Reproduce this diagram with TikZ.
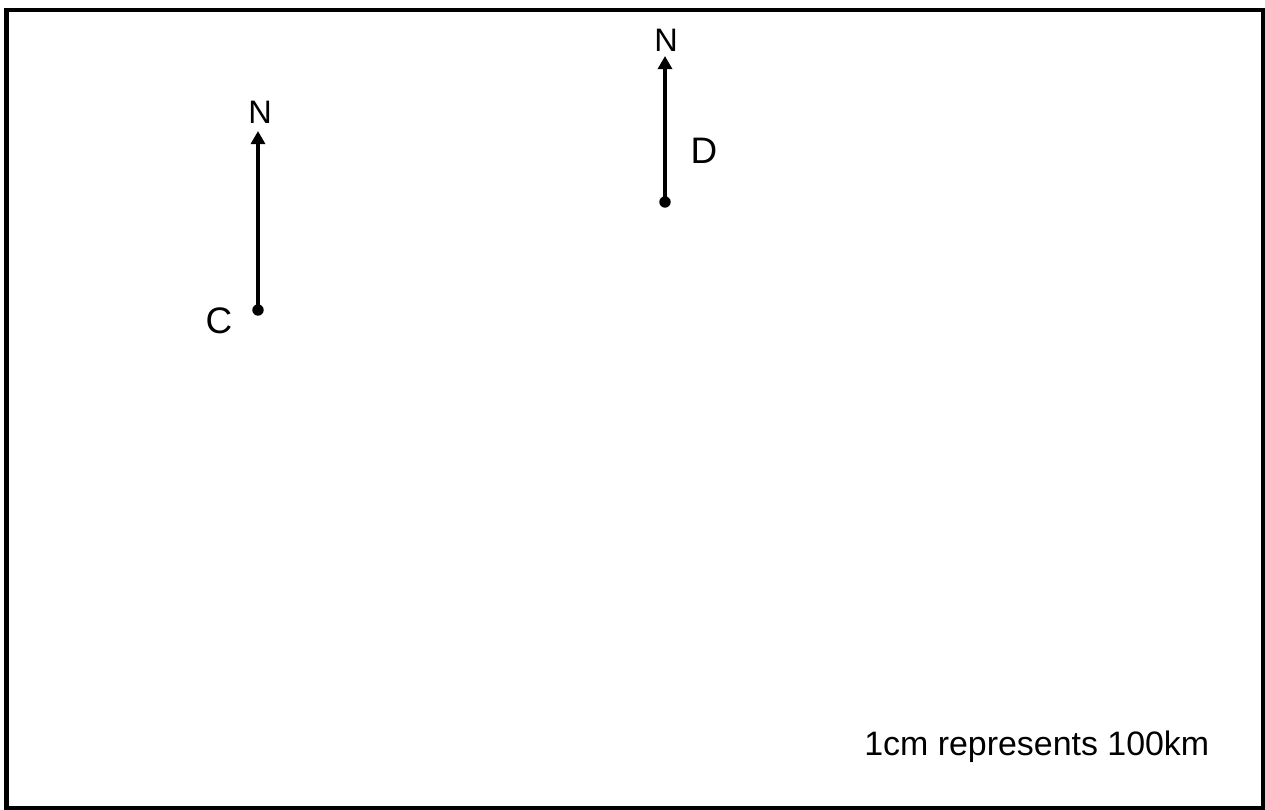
\documentclass[tikz,border=0pt]{standalone}
\usepackage{fontspec}
\setmainfont{Liberation Sans}
\usetikzlibrary{arrows.meta}
\tikzset{
  northarrow/.style={line width=2.6pt, -{Triangle[length=7.5pt,width=8pt]}},
  dotmark/.style={circle, fill=black, inner sep=0pt, minimum size=6.5pt},
  nlabel/.style={inner sep=0pt, font=\fontsize{18.5}{22}\selectfont},
  plabel/.style={inner sep=0pt, font=\fontsize{21}{25}\selectfont},
  scalelabel/.style={inner sep=0pt, anchor=base west, font=\fontsize{19.3}{23}\selectfont}
}
\begin{document}
\begin{tikzpicture}[x=0.02cm,y=-0.02cm]
\useasboundingbox (0,0) rectangle (1265,810);
\draw[line width=2.8pt] (6.5,10) rectangle (1263,808);
% arrow C
\coordinate (ctip) at (258,131);
\node[dotmark] (cdot) at (258,310) {};
\draw[northarrow] (cdot.center) -- (ctip);
\node[nlabel] (cn) at (260,112) {N};
\node[plabel] (clab) at (219,321) {C};
% arrow D
\coordinate (dtip) at (665,56);
\node[dotmark] (ddot) at (665,202) {};
\draw[northarrow] (ddot.center) -- (dtip);
\node[nlabel] (dn) at (666,40) {N};
\node[plabel] (dlab) at (704,151) {D};
% scale
\node[scalelabel] (scale) at (864,755) {1cm represents 100km};
\end{tikzpicture}
\end{document}
